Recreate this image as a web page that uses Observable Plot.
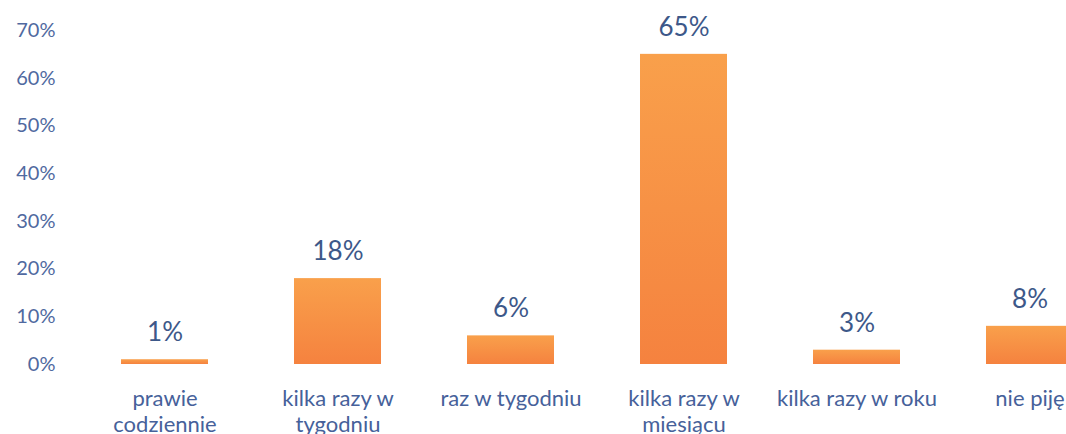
<!DOCTYPE html>
<html>
<head>
<meta charset="utf-8">
<script src="https://cdn.jsdelivr.net/npm/d3@7"></script>
<script src="https://cdn.jsdelivr.net/npm/@observablehq/plot@0.6"></script>
<style>
  html, body { margin: 0; padding: 0; background: #ffffff; overflow: hidden; }
  #chart { width: 1066px; height: 434px; }
</style>
</head>
<body>
<div id="chart"></div>
<script>
const categories = ["prawie codziennie", "kilka razy w tygodniu", "raz w tygodniu", "kilka razy w miesiącu", "kilka razy w roku", "nie piję"];
const tickLabels = ["prawie\ncodziennie", "kilka razy w\ntygodniu", "raz w tygodniu", "kilka razy w\nmiesiącu", "kilka razy w roku", "nie piję"];
const values = [1, 18, 6, 65, 3, 8];
const yTicks = [0, 10, 20, 30, 40, 50, 60, 70];

const data = categories.map((c, i) => ({category: c, value: values[i]}));
const labelOf = new Map(categories.map((c, i) => [c, tickLabels[i]]));

const font = "Lato, 'Open Sans', sans-serif";

const plot = Plot.plot({
  width: 1066,
  height: 434,
  marginLeft: 60,
  marginRight: 0,
  marginTop: 0,
  marginBottom: 70,
  style: {fontFamily: font, background: "#ffffff", overflow: "hidden"},
  x: {domain: categories, range: [33, 1161], padding: 0.5, align: 0.5},
  y: {domain: [0, 70], range: [364, 30]},
  marks: [
    Plot.barY(data, {x: "category", y: "value", fill: "url(#barGrad)"}),
    Plot.text(data, {
      x: "category", y: "value", text: d => d.value + "%",
      dy: -27, fontSize: 26, fill: "#3d5889"
    }),
    Plot.axisY({
      ticks: yTicks, tickSize: 0, tickPadding: 5,
      tickFormat: d => d + "%", fontSize: 20, color: "#5069a0",
      label: null
    }),
    Plot.axisX({
      tickSize: 0, tickPadding: 23, tickFormat: d => labelOf.get(d),
      fontSize: 22, color: "#46619a", label: null, lineHeight: 1.18,
      textAnchor: "middle"
    })
  ]
});

const svg = d3.select(plot);
const defs = svg.insert("defs", ":first-child");
const grad = defs.append("linearGradient")
  .attr("id", "barGrad").attr("x1", 0).attr("y1", 0).attr("x2", 0).attr("y2", 1);
grad.append("stop").attr("offset", "0%").attr("stop-color", "#f9a04b");
grad.append("stop").attr("offset", "100%").attr("stop-color", "#f5823f");

document.getElementById("chart").appendChild(plot);
</script>
</body>
</html>
